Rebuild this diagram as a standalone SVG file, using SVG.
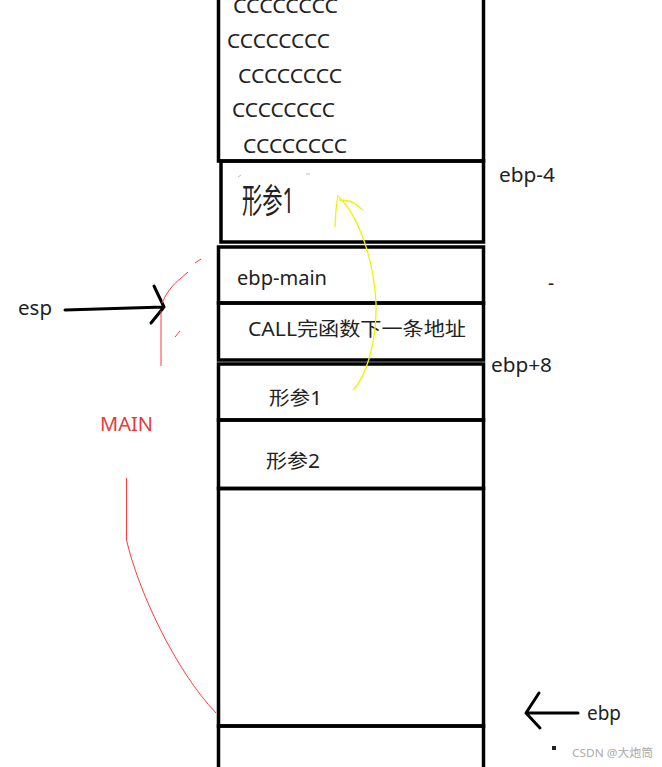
<svg xmlns="http://www.w3.org/2000/svg" width="662" height="767" viewBox="0 0 662 767">
<style>
.box{fill:none;stroke:#000;stroke-width:3.5}
.t{font-family:"Noto Sans","Noto Sans CJK SC",sans-serif;fill:#222;font-size:19px}
.c{font-family:"Noto Sans",sans-serif;fill:#222;font-size:19px}
.red{stroke:#ff3b3b;stroke-width:1;fill:none}
.yel{stroke:#f2f200;stroke-width:1.3;fill:none}
.arr{stroke:#000;stroke-width:3;fill:none;stroke-linecap:round;stroke-linejoin:round}
</style>
<rect width="662" height="767" fill="#fff"/>
<g id="locals">
<rect class="box" x="218.5" y="-10" width="265" height="171"/>
<text class="c" x="233" y="13" textLength="105" lengthAdjust="spacingAndGlyphs">CCCCCCCC</text>
<text class="c" x="227" y="48" textLength="103" lengthAdjust="spacingAndGlyphs">CCCCCCCC</text>
<text class="c" x="238" y="83" textLength="104" lengthAdjust="spacingAndGlyphs">CCCCCCCC</text>
<text class="c" x="232" y="117" textLength="103" lengthAdjust="spacingAndGlyphs">CCCCCCCC</text>
<text class="c" x="243" y="153" textLength="104" lengthAdjust="spacingAndGlyphs">CCCCCCCC</text>
</g>
<g id="local-arg">
<rect class="box" x="221" y="161" width="262.5" height="81"/>
<g transform="translate(242,213) scale(1,1.8)"><text class="t" x="0" y="0" font-size="21" textLength="52" lengthAdjust="spacingAndGlyphs">形参1</text></g>
<path d="M238,177 L241,175 M306,174 L310,174" stroke="#bbb" stroke-width="1"/>
</g>
<g id="ebp-main">
<rect class="box" x="218.5" y="247" width="265" height="56"/>
<text class="t" x="237" y="285" font-size="20" textLength="90" lengthAdjust="spacingAndGlyphs">ebp-main</text>
</g>
<g id="ret-addr">
<rect class="box" x="218.5" y="303" width="265" height="57"/>
<text class="t" x="248" y="336" font-size="20" textLength="218" lengthAdjust="spacingAndGlyphs">CALL完函数下一条地址</text>
</g>
<g id="arg1">
<rect class="box" x="218.5" y="364" width="265" height="56"/>
<text class="t" x="269" y="405" textLength="53" lengthAdjust="spacingAndGlyphs">形参1</text>
</g>
<g id="arg2">
<rect class="box" x="218.5" y="420" width="265" height="68.5"/>
<text class="t" x="266" y="468" textLength="54" lengthAdjust="spacingAndGlyphs">形参2</text>
</g>
<g id="main-frame">
<rect class="box" x="218.5" y="488.5" width="265" height="237.5"/>
</g>
<g id="below">
<rect class="box" x="218.5" y="726" width="265" height="60"/>
</g>
<g id="labels">
<text class="t" x="499" y="182" textLength="56" lengthAdjust="spacingAndGlyphs">ebp-4</text>
<text class="t" x="548" y="290" font-size="14">-</text>
<text class="t" x="491" y="372" textLength="61" lengthAdjust="spacingAndGlyphs">ebp+8</text>
<text class="t" x="18" y="315" textLength="34" lengthAdjust="spacingAndGlyphs">esp</text>
<text class="t" x="100" y="431" fill="#e83a3a" style="fill:#e83a3a" textLength="53" lengthAdjust="spacingAndGlyphs">MAIN</text>
<text class="t" x="587" y="720" textLength="34" lengthAdjust="spacingAndGlyphs">ebp</text>
</g>
<g id="connectors">
<path class="arr" d="M65,310 L164,307 M154,286 L164,307 L151,323"/>
<path class="arr" d="M578,713 L526,713 M539,693 L526,713 L540,728"/>
<path class="yel" d="M353,390 C366,377 377,342 376,303 C374,262 360,218 339,197"/>
<path class="yel" d="M335,227 L336,210 L338,195 M339,200 C344,200 350,201 354,203 L363,210"/>
<path class="red" d="M126.5,478 L126.5,540 C138,590 175,670 216,713"/>
<path class="red" d="M161,311 L161,366 M162,303 C166,294 172,285 180,279 L188,272 M195,263 L201,259 M175,337 L180,331"/>
</g>
<g id="watermark">
<rect x="552" y="746" width="4" height="4" fill="#222"/>
<text x="572" y="757" font-family="Noto Sans, Noto Sans CJK SC, sans-serif" font-size="11" fill="#aaa" textLength="81" lengthAdjust="spacingAndGlyphs">CSDN @大炮筒</text>
</g>
</svg>
